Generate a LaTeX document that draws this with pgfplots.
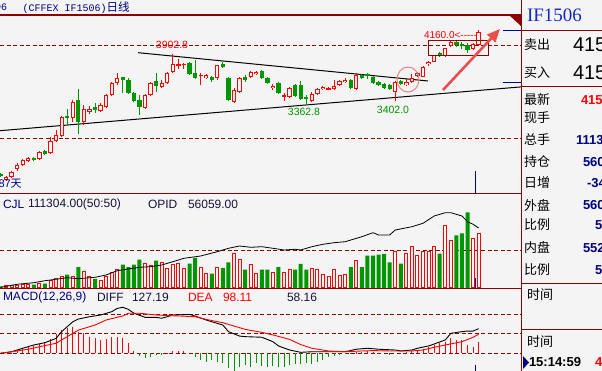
\documentclass[border=0pt]{standalone}
\usepackage{fontspec}
\setmainfont{Liberation Sans}
\newfontfamily\cjk{Noto Sans CJK SC}
\newfontfamily\serif{Liberation Serif}
\newfontfamily\mono{Liberation Mono}
\usepackage{pgfplots}
\usepackage{pgfplotstable}
\pgfplotsset{compat=1.18}
\usetikzlibrary{arrows.meta}
\definecolor{bg}{RGB}{244,244,244}
\definecolor{cred}{RGB}{255,0,0}
\definecolor{cgreen}{RGB}{0,150,0}
\definecolor{dred}{RGB}{140,0,0}
\definecolor{navy}{RGB}{0,0,128}
\definecolor{arrowred}{RGB}{236,78,78}
\definecolor{circred}{RGB}{240,130,130}
\definecolor{ifblue}{RGB}{20,40,200}
\definecolor{dtext}{RGB}{20,20,60}

% red (rising) candles: k open high low close volume
\pgfplotstableread{
k o h l c v
1 2553 2596 2542 2585 4100
2 2585 2649 2574 2639 4100
3 2671 2735 2649 2714 5300
4 2714 2778 2703 2767 6800
5 2757 2799 2746 2789 6800
7 2778 2864 2767 2853 8800
9 2842 3014 2832 2971 15600
10 2971 3089 2960 3035 18500
11 3025 3239 3014 3228 22600
13 3217 3410 3175 3389 22600
15 3175 3357 3142 3314 33400
16 3282 3346 3260 3314 22600
18 3293 3378 3282 3357 15600
19 3335 3475 3325 3464 23800
20 3464 3603 3453 3593 30800
21 3593 3700 3571 3646 36900
26 3325 3475 3314 3464 50400
27 3464 3603 3453 3593 45700
29 3550 3625 3539 3593 51900
30 3593 3711 3582 3700 39000
31 3711 3902.8 3700 3796 47200
32 3775 3850 3743 3796 49200
33 3786 3807 3743 3796 39000
36 3668 3700 3571 3678 41000
37 3646 3689 3636 3678 29300
39 3646 3786 3625 3786 43000
42 3389 3539 3378 3518 70300
43 3496 3657 3485 3646 57400
45 3657 3721 3646 3711 47800
46 3689 3721 3678 3711 29300
49 3539 3582 3518 3561 30800
51 3443 3485 3400 3464 30800
52 3443 3550 3432 3539 37500
56 3400 3496 3389 3475 39000
57 3475 3539 3464 3528 37500
58 3528 3561 3518 3550 27300
59 3523 3550 3518 3539 22600
60 3528 3625 3518 3561 37500
61 3571 3625 3561 3614 25200
62 3603 3646 3593 3625 27300
64 3528 3700 3518 3678 56000
71 3496 3614 3402 3603 74400
73 3571 3636 3561 3603 70300
74 3603 3689 3593 3646 85300
75 3668 3711 3657 3700 66200
76 3657 3775 3657 3764 74400
77 3796 3829 3775 3818 74400
78 3818 3893 3818 3893 85300
80 3882 3968 3871 3968 127700
81 3989 4043 3979 4032 97000
85 3957 4021 3946 4011 100500
86 4000 4160 4000 4139 111304
}\redtab

% green (falling) candles
\pgfplotstableread{
k o h l c v
0 2617 2628 2585 2596 3100
6 2789 2799 2757 2767 6800
8 2864 2874 2821 2832 8800
12 3239 3314 3142 3217 27300
14 3410 3528 3046 3175 43000
17 3335 3378 3271 3303 18500
22 3657 3657 3485 3625 47800
23 3625 3646 3475 3485 43000
24 3485 3496 3389 3400 47800
25 3410 3464 3250 3335 58000
28 3614 3700 3496 3561 56000
34 3807 3818 3678 3689 49800
35 3700 3839 3636 3646 61500
38 3657 3668 3603 3625 29300
40 3796 3818 3753 3764 41000
41 3646 3657 3400 3410 52500
44 3657 3678 3603 3625 37500
47 3721 3732 3636 3646 37500
48 3646 3657 3582 3593 37500
50 3593 3603 3475 3485 43000
53 3571 3582 3443 3453 37500
54 3571 3614 3410 3421 49200
55 3443 3464 3362.8 3421 37500
63 3625 3636 3528 3539 43000
65 3678 3689 3636 3646 43000
66 3689 3700 3636 3668 66200
67 3657 3668 3582 3593 66200
68 3603 3614 3561 3571 68300
69 3582 3593 3528 3539 69700
70 3571 3582 3518 3528 52500
72 3614 3625 3571 3582 49800
79 3914 3925 3871 3882 70300
82 4032 4043 3979 4000 107800
83 4011 4032 3957 3989 111900
84 4000 4021 3914 3946 155000
}\greentab

% MACD histogram
\pgfplotstableread{
k m
0 0
1 0
2 3
3 17
4 26
5 34
6 38
7 48
8 60
9 72
10 100
11 120
12 129
13 138
14 112
15 103
16 86
17 77
18 69
19 72
20 83
21 83
22 77
23 55
24 14
25 -14
26 -26
27 -21
28 -9
29 -4
30 1
31 10
32 14
33 10
34 3
35 -17
36 -35
37 -43
38 -35
39 -43
40 -52
41 -78
42 -90
43 -72
44 -60
45 -72
46 -52
47 -66
48 -72
49 -66
50 -72
51 -72
52 -60
53 -55
54 -55
55 -52
56 -55
57 -43
58 -35
59 -21
60 -14
61 -4
62 -1
63 1
64 5
65 8
66 12
67 7
68 3
69 0
70 -4
71 0
72 3
73 5
74 10
75 14
76 21
77 34
78 43
79 55
80 60
81 77
82 69
83 69
84 43
85 34
86 58.16
}\macdtab

\pgfplotsset{panel/.style={scale only axis, width=521pt, hide axis, xtick=\empty, ytick=\empty,
  xmin=-0.09, xmax=93.62, anchor=south west, clip=true, clip bounding box=upper bound},
  ebar/.style 2 args={draw=none, mark=none, forget plot, error bars/.cd, y dir=both, y explicit,
  error mark=none, error bar style={draw=#1, line width=#2}}}
\tikzset{lbl/.style={inner sep=0pt, outer sep=0pt, anchor=west, overlay},
  every node/.append style={overlay}}

\begin{document}
\begin{tikzpicture}[x=1pt,y=1pt]
\clip (0,0) rectangle (602,371);
\fill[bg] (0,0) rectangle (602,371);

% dashed reference lines
\begin{scope}[dred, line width=0.8pt, dash pattern=on 4pt off 2.5pt]
\draw (0,326) -- (521,326);
\draw (0,232.7) -- (521,232.7);
\draw (0,121) -- (521,121);
\draw (0,57) -- (521,57);
\draw (0,37.3) -- (521,37.3);
\draw (0,17.7) -- (521,17.7);
\end{scope}

% frames
\draw[dred, line width=1.5pt] (0,356) -- (521,356);
\draw[dred, line width=1pt] (0,177.5) -- (521,177.5);
\draw[dred, line width=1pt] (0,82.5) -- (521,82.5);
\draw[dred, line width=1pt] (521.5,0) -- (521.5,371);
\fill[dred] (509,356) -- (521,356) -- (521,345) -- cycle;

% main candle panel
\begin{axis}[panel, at={(0pt,178pt)}, height=177pt, ymin=2413.44, ymax=4310.88]
\path (rel axis cs:0,0) rectangle (rel axis cs:1,1);
\addplot[black, line width=1pt] coordinates {(-0.09,3081.3) (93.62,3550.8)};
\addplot[black, line width=1pt] coordinates {(24.73,3917.5) (76.89,3614.1)};
% wicks
\addplot[ebar={cred}{1pt}]
  table[x=k, y expr={(\thisrow{h}+\thisrow{l})/2}, y error expr={(\thisrow{h}-\thisrow{l})/2}] {\redtab};
\addplot[ebar={cgreen}{1pt}]
  table[x=k, y expr={(\thisrow{h}+\thisrow{l})/2}, y error expr={(\thisrow{h}-\thisrow{l})/2}] {\greentab};
% bodies
\addplot[ebar={cred}{4.3pt}]
  table[x=k, y expr={(\thisrow{o}+\thisrow{c})/2}, y error expr={(\thisrow{c}-\thisrow{o})/2}] {\redtab};
\addplot[ebar={bg}{2.3pt}]
  table[x=k, y expr={(\thisrow{o}+\thisrow{c})/2}, y error expr={max((\thisrow{c}-\thisrow{o})/2-10.72,0)}] {\redtab};
\addplot[ebar={cgreen}{4.3pt}]
  table[x=k, y expr={(\thisrow{o}+\thisrow{c})/2}, y error expr={(\thisrow{o}-\thisrow{c})/2}] {\greentab};
\end{axis}

% volume panel
\begin{axis}[panel, at={(0pt,83pt)}, height=94pt, ymin=0, ymax=192700]
\path (rel axis cs:0,0) rectangle (rel axis cs:1,1);
\addplot[ybar, bar width=3pt, bar shift=0pt, draw=cred, fill=bg, line width=1pt] table[x=k, y=v] {\redtab};
\addplot[ybar, bar width=4pt, bar shift=0pt, draw=none, fill=cgreen] table[x=k, y=v] {\greentab};
\end{axis}
\begin{axis}[panel, at={(0pt,83pt)}, height=94pt, ymin=0, ymax=87796]
\path (rel axis cs:0,0) rectangle (rel axis cs:1,1);
\addplot[black, line width=0.8pt] coordinates {(0,650) (3,3460) (6,4950) (8,6820) (9,7470) (12,9620) (14,8690) (17,9990) (19,12140) (21,16160) (23,17750) (25,19330) (27,19890) (29,21480) (31,24560) (33,27740) (36,29890) (39,33900) (41,37080) (43,39230) (45,38010) (47,38570) (49,37080) (51,35490) (53,36150) (54,35490) (56,38570) (58,40820) (60,42310) (62,43240) (65,47910) (67,51650) (68,49500) (70,49500) (71,54170) (74,57250) (76,60430) (78,67250) (80,70330) (81,70330) (83,67250) (84,61920) (85,59500) (86,56059)};
\end{axis}

% MACD panel
\begin{axis}[panel, at={(0pt,0pt)}, height=82pt, ymin=-91.5, ymax=332.4]
\path (rel axis cs:0,0) rectangle (rel axis cs:1,1);
\addplot[ebar={cred}{1pt}]
  table[x=k, y expr={max(\thisrow{m},0)/2}, y error expr={max(\thisrow{m},0)/2}] {\macdtab};
\addplot[ebar={cgreen}{1pt}]
  table[x=k, y expr={min(\thisrow{m},0)/2}, y error expr={-min(\thisrow{m},0)/2}] {\macdtab};
\addplot[black, line width=0.9pt] coordinates {(0,0) (2,8) (4,26) (6,43) (8,55) (10,77) (11,112) (13,163) (14,177) (16,189) (18,198) (20,215) (21,232) (22,238) (23,227) (24,207) (26,186) (28,186) (29,181) (31,198) (34,201) (35,193) (37,172) (40,146) (41,112) (43,89) (44,86) (47,83) (49,60) (50,38) (52,17) (54,5) (56,8) (59,8) (62,8) (64,21) (66,26) (68,21) (71,17) (72,12) (74,17) (75,26) (77,38) (78,48) (80,69) (81,103) (83,112) (84,115) (85,115) (86,127.19)};
\addplot[cred, line width=0.9pt] coordinates {(0,0) (2,8) (5,21) (7,34) (10,52) (12,86) (14,120) (17,146) (19,172) (22,193) (23,207) (25,207) (28,198) (30,195) (32,193) (35,189) (37,175) (40,158) (42,141) (44,124) (47,108) (49,95) (52,72) (54,45) (56,26) (59,12) (62,8) (65,12) (67,14) (70,12) (72,12) (74,12) (76,17) (78,31) (80,43) (83,60) (85,83) (86,98.11)};
\end{axis}

% cursor marks
\draw[navy, line width=1pt] (475,200) -- (475,178);
\draw[navy, line width=1pt] (475,83) -- (475,93);
\draw[navy, line width=1pt] (475,0) -- (475,6);
\draw[navy!80!blue, line width=1pt] (503,340) -- (521,340);
\draw[navy!80!blue, line width=1pt] (503,288) -- (521,288);

% annotations
\draw[dred, line width=1pt] (428,315.3) rectangle (488,330.3);
\draw[circred, line width=1pt] (408,291.5) ellipse [x radius=11pt, y radius=12.5pt];
\draw[arrowred, line width=2.6pt, -{Triangle[length=13pt, width=11pt]}] (443,281) -- (500,342);

\node[inner sep=0pt, text=cred] at (172,326) {\fontsize{10.5}{11}\selectfont 3902.8};
\node[lbl, text=cred] at (424,335.5) {\fontsize{10}{11}\selectfont 4160.0<-{}-{}-{}-{}-};
\node[inner sep=0pt, text=cgreen] at (304,259.5) {\fontsize{10.5}{11}\selectfont 3362.8};
\node[inner sep=0pt, text=cgreen] at (393,261.5) {\fontsize{10.5}{11}\selectfont 3402.0};
\node[lbl, text=navy] at (-1.5,187) {\fontsize{11}{12}\selectfont 87\cjk 天};

% header
\node[lbl, text=navy] at (-5,363.5) {\mono\fontsize{10}{11}\selectfont 06};
\node[lbl, text=navy] at (22.7,363.5) {\mono\fontsize{10}{11}\selectfont (CFFEX IF1506)\cjk\fontsize{11.5}{12}\selectfont 日线};

% volume header
\node[lbl, text=navy] at (3,167) {\fontsize{12}{13}\selectfont CJL};
\node[lbl, text=dtext] at (28,167) {\fontsize{12}{13}\selectfont 111304.00(50:50)};
\node[lbl, text=dtext] at (148,167) {\fontsize{12}{13}\selectfont OPID};
\node[lbl, text=dtext] at (188,167) {\fontsize{12}{13}\selectfont 56059.00};

% MACD header
\node[lbl, text=navy] at (3,74) {\fontsize{12}{13}\selectfont MACD(12,26,9)};
\node[lbl, text=dtext] at (97,74) {\fontsize{12}{13}\selectfont DIFF};
\node[lbl, text=dtext] at (132,74) {\fontsize{12}{13}\selectfont 127.19};
\node[lbl, text=cred] at (188,74) {\fontsize{12}{13}\selectfont DEA};
\node[lbl, text=cred] at (223,74) {\fontsize{12}{13}\selectfont 98.11};
\node[lbl, text=dtext] at (287,74) {\fontsize{12}{13}\selectfont 58.16};

% right panel
\draw[dred, line width=1pt] (521.5,340.5) -- (602,340.5);
\draw[dred, line width=1pt] (521.5,284) -- (602,284);
\draw[dred, line width=1pt] (521.5,87) -- (602,87);
\draw[dred, line width=1pt] (521.5,41) -- (602,41);
\node[lbl, text=ifblue] at (527,356) {\serif\fontsize{19}{20}\selectfont IF1506};
\begin{scope}[every node/.style={lbl}]
\node at (524,326) {\cjk\fontsize{13}{14}\selectfont 卖出};
\node at (573,326) {\fontsize{20}{21}\selectfont 415};
\node at (524,298) {\cjk\fontsize{13}{14}\selectfont 买入};
\node at (573,298) {\fontsize{20}{21}\selectfont 415};
\node at (524,271) {\cjk\fontsize{13}{14}\selectfont 最新};
\node[text=cred] at (581,271) {\fontsize{13}{14}\selectfont\bfseries 415};
\node at (524,253) {\cjk\fontsize{13}{14}\selectfont 现手};
\node at (524,231) {\cjk\fontsize{13}{14}\selectfont 总手};
\node[text=navy] at (576,231) {\fontsize{13}{14}\selectfont\bfseries 1113};
\node at (524,209) {\cjk\fontsize{13}{14}\selectfont 持仓};
\node[text=navy] at (583,209) {\fontsize{13}{14}\selectfont\bfseries 560};
\node at (524,188) {\cjk\fontsize{13}{14}\selectfont 日增};
\node[text=navy] at (587,188) {\fontsize{13}{14}\selectfont\bfseries -34};
\node at (524,166) {\cjk\fontsize{13}{14}\selectfont 外盘};
\node[text=navy] at (583,166) {\fontsize{13}{14}\selectfont\bfseries 560};
\node at (524,146) {\cjk\fontsize{13}{14}\selectfont 比例};
\node[text=navy] at (595,146) {\fontsize{13}{14}\selectfont\bfseries 5};
\node at (524,123) {\cjk\fontsize{13}{14}\selectfont 内盘};
\node[text=navy] at (583,123) {\fontsize{13}{14}\selectfont\bfseries 552};
\node at (524,101) {\cjk\fontsize{13}{14}\selectfont 比例};
\node[text=navy] at (595,101) {\fontsize{13}{14}\selectfont\bfseries 5};
\node at (527,76) {\cjk\fontsize{13}{14}\selectfont 时间};
\node at (527,29) {\cjk\fontsize{13}{14}\selectfont 时间};
\node at (529,8.5) {\fontsize{13}{14}\selectfont\bfseries 15:14:59};
\node[text=cred] at (595,8.5) {\fontsize{13}{14}\selectfont\bfseries 4};
\end{scope}
\fill[navy] (523,2) -- (523,15) -- (529,8.5) -- cycle;
\end{tikzpicture}
\end{document}
